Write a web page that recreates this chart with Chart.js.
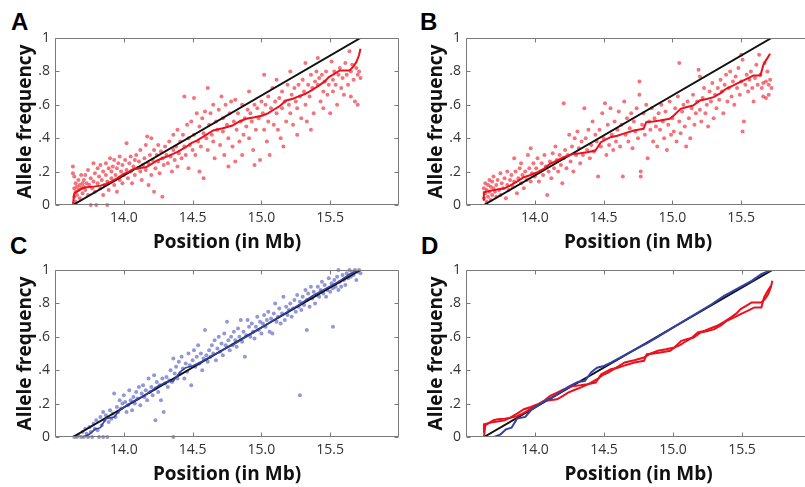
<!DOCTYPE html>
<html><head><meta charset="utf-8">
<script src="https://cdn.jsdelivr.net/npm/chart.js@4/dist/chart.umd.min.js"></script>
<style>
html,body{margin:0;padding:0;background:#fff;}
body{width:805px;height:487px;overflow:hidden;position:relative;}
canvas{position:absolute;}
.lbl{position:absolute;font:bold 24px "Liberation Sans",Arial,sans-serif;line-height:24px;color:#000;}
</style></head><body>
<div class="lbl" style="left:11px;top:10px">A</div>
<div class="lbl" style="left:420px;top:10px">B</div>
<div class="lbl" style="left:10px;top:234px">C</div>
<div class="lbl" style="left:421px;top:234px">D</div>
<canvas id="cA" width="403" height="254" style="left:0;top:0"></canvas>
<canvas id="cB" width="403" height="254" style="left:411px;top:0"></canvas>
<canvas id="cC" width="403" height="254" style="left:0;top:232px"></canvas>
<canvas id="cD" width="403" height="254" style="left:411px;top:232px"></canvas>
<script>
const xTitle = 'Position (in Mb)';
const yTitle = 'Allele frequency';
const xTickValues = [14.0, 14.5, 15.0, 15.5];
const xTickLabels = ['14.0', '14.5', '15.0', '15.5'];
const yTickValues = [0, 0.2, 0.4, 0.6, 0.8, 1];
const yTickLabels = ['0', '.2', '.4', '.6', '.8', '1'];

const diagonal = [[13.63,0],[15.72,1]];

const scatterA = [
[13.63,.19],[13.63,.23],[13.64,.05],[13.64,.10],[13.64,.17],[13.65,.08],[13.65,.13],[13.65,.02],[13.66,.11],[13.66,.06],[13.67,.15],[13.67,.09],[13.68,.12],[13.68,.04],[13.69,.18],[13.69,.10],[13.70,.13],[13.70,.07],
[13.71,.11],[13.71,.15],[13.72,.09],[13.72,.18],[13.73,.13],[13.74,.06],[13.74,.21],[13.75,.12],[13.76,0],[13.76,.16],[13.77,.10],[13.78,.14],[13.78,.25],[13.79,.08],[13.79,.19],
[13.80,0],[13.81,.13],[13.81,.22],[13.82,.17],[13.83,.10],[13.83,.24],[13.84,.15],[13.85,.20],[13.85,.06],[13.86,.12],[13.87,.25],[13.87,.18],[13.88,0],[13.88,.14],[13.89,.22],[13.89,.09],
[13.90,.28],[13.91,.20],[13.91,.16],[13.92,.23],[13.93,.12],[13.93,.27],[13.94,.18],[13.95,.22],[13.95,.08],[13.96,.25],[13.97,.15],[13.97,.29],[13.98,.20],[13.99,.24],[13.99,.13],
[14.00,.18],[14.01,.27],[14.02,.37],[14.02,.21],[14.03,.16],[14.04,.25],[14.05,.20],[14.05,.29],[14.06,.13],[14.07,.23],[14.08,.27],[14.08,.18],[14.09,.30],[14.10,.22],
[14.11,.26],[14.12,.20],[14.12,.33],[14.13,.15],[14.14,.24],[14.15,.28],[14.16,.36],[14.16,.21],[14.17,.41],[14.18,.25],[14.18,.12],[14.19,.30],[14.20,.40],[14.20,.18],
[14.21,.27],[14.22,.33],[14.22,.08],[14.23,.22],[14.24,.30],[14.25,.26],[14.25,.36],[14.26,.19],[14.27,.32],[14.28,.05],[14.28,.28],[14.29,.24],[14.30,.35],
[14.31,.30],[14.32,.25],[14.33,.38],[14.34,.29],[14.35,.20],[14.36,.33],[14.36,.42],[14.37,.27],[14.38,.35],[14.39,.45],[14.39,.23],[14.40,.31],
[14.41,.38],[14.42,.28],[14.43,.42],[14.44,.65],[14.44,.35],[14.45,.30],[14.46,.48],[14.47,.40],[14.47,.22],[14.48,.36],[14.49,.50],[14.50,.33],
[14.51,.64],[14.51,.42],[14.52,.30],[14.53,.55],[14.54,.38],[14.55,.47],[14.55,.20],[14.56,.35],[14.57,.52],[14.58,.16],[14.58,.43],[14.59,.56],[14.60,.40],
[14.61,.70],[14.61,.33],[14.62,.48],[14.63,.55],[14.64,.42],[14.65,.38],[14.65,.60],[14.66,.28],[14.67,.50],[14.68,.45],[14.69,.57],[14.70,.36],
[14.71,.65],[14.72,.44],[14.72,.52],[14.73,.30],[14.74,.60],[14.75,.48],[14.76,.23],[14.76,.40],[14.77,.55],[14.78,.62],[14.79,.35],[14.80,.50],
[14.81,.63],[14.81,.26],[14.82,.45],[14.83,.55],[14.84,.38],[14.85,.50],[14.86,.60],[14.86,.30],[14.87,.42],[14.88,.52],[14.89,.47],[14.90,.57],
[14.91,.68],[14.91,.40],[14.92,.55],[14.93,.50],[14.94,.33],[14.95,.60],[14.95,.24],[14.96,.45],[14.97,.58],[14.98,.52],[14.99,.27],[15.00,.62],
[15.01,.55],[15.02,.78],[15.02,.45],[15.03,.60],[15.04,.38],[15.05,.65],[15.05,.50],[15.06,.30],[15.07,.58],[15.08,.70],[15.09,.48],[15.10,.62],
[15.11,.75],[15.11,.55],[15.12,.45],[15.13,.64],[15.14,.40],[15.15,.68],[15.15,.58],[15.16,.35],[15.17,.62],[15.18,.50],[15.19,.72],[15.20,.60],
[15.21,.80],[15.21,.55],[15.22,.66],[15.23,.48],[15.24,.70],[15.25,.62],[15.26,.42],[15.26,.58],[15.27,.72],[15.28,.65],[15.29,.52],[15.30,.75],
[15.31,.68],[15.32,.85],[15.32,.60],[15.33,.50],[15.34,.72],[15.35,.65],[15.36,.45],[15.36,.78],[15.37,.70],[15.38,.55],[15.39,.74],[15.40,.80],
[15.41,.88],[15.41,.72],[15.42,.76],[15.43,.62],[15.44,.78],[15.45,.68],[15.45,.58],[15.46,.74],[15.47,.80],[15.48,.66],[15.49,.72],[15.50,.55],
[15.51,.86],[15.52,.75],[15.52,.68],[15.53,.80],[15.54,.72],[15.55,.60],[15.56,.78],[15.57,.82],[15.58,.70],[15.59,.76],[15.60,.66],
[15.61,.85],[15.62,.78],[15.63,.72],[15.64,.92],[15.65,.80],[15.65,.65],[15.66,.84],[15.67,.75],[15.68,.62],[15.69,.82],[15.70,.78],[15.70,.60],[15.71,.80],[15.72,.76]
];

const scatterB = [
[13.63,.04],[13.63,.10],[13.64,.07],[13.64,.13],[13.65,.02],[13.65,.09],[13.66,.12],[13.66,.05],[13.67,.15],[13.67,.08],[13.68,.11],[13.68,.03],[13.69,.06],[13.69,.14],[13.70,.10],[13.70,.17],[13.71,.08],[13.72,.12],[13.72,.05],
[13.73,.15],[13.74,.09],[13.75,.19],[13.75,.06],[13.76,.13],[13.77,.10],[13.78,.16],[13.79,.04],[13.80,.12],[13.80,.20],[13.81,.09],[13.82,.15],[13.83,.18],[13.84,.11],[13.85,.28],[13.85,.14],
[13.86,.20],[13.87,.07],[13.88,.16],[13.89,.22],[13.90,.13],[13.90,.25],[13.91,.18],[13.92,.10],[13.93,.20],[13.94,.15],[13.95,.30],[13.96,.22],[13.97,.34],[13.97,.14],[13.98,.19],[13.99,.25],
[14.00,.17],[14.01,.22],[14.02,.28],[14.03,.14],[14.04,.20],[14.05,.25],[14.06,.18],[14.07,.30],[14.08,.23],[14.09,.06],[14.10,.20],[14.11,.26],[14.12,.16],[14.13,.31],[14.14,.22],[14.15,.35],
[14.16,.27],[14.17,.20],[14.18,.30],[14.19,.24],[14.20,.13],[14.21,.61],[14.21,.28],[14.22,.33],[14.23,.22],[14.24,.30],[14.25,.42],[14.26,.26],[14.27,.35],[14.28,.20],[14.29,.40],[14.30,.30],
[14.31,.44],[14.32,.34],[14.33,.25],[14.34,.38],[14.35,.30],[14.36,.58],[14.37,.40],[14.38,.33],[14.39,.45],[14.40,.28],[14.41,.36],[14.42,.50],[14.43,.32],[14.44,.42],[14.45,.38],
[14.46,.17],[14.47,.45],[14.48,.35],[14.49,.55],[14.50,.40],[14.51,.61],[14.52,.30],[14.53,.48],[14.54,.36],[14.55,.58],[14.56,.42],[14.57,.33],[14.58,.50],[14.59,.38],[14.60,.45],
[14.61,.56],[14.62,.35],[14.63,.48],[14.64,.17],[14.65,.62],[14.66,.42],[14.67,.52],[14.68,.38],[14.69,.46],[14.70,.55],[14.71,.34],[14.72,.50],[14.73,.44],[14.74,.58],[14.75,.40],
[14.76,.74],[14.76,.66],[14.77,.20],[14.77,.17],[14.78,.48],[14.79,.55],[14.80,.42],[14.81,.60],[14.82,.28],[14.83,.50],[14.84,.45],[14.85,.58],[14.86,.38],[14.87,.52],[14.88,.47],[14.89,.35],[14.90,.55],
[14.91,.45],[14.92,.60],[14.93,.50],[14.94,.40],[14.95,.56],[14.96,.33],[14.97,.48],[14.98,.62],[14.99,.42],[15.00,.52],[15.01,.44],[15.02,.58],[15.03,.38],[15.04,.65],[15.05,.85],[15.05,.50],
[15.06,.43],[15.07,.56],[15.08,.60],[15.09,.47],[15.10,.35],[15.11,.62],[15.12,.52],[15.13,.40],[15.14,.58],[15.15,.66],[15.16,.48],[15.17,.55],[15.18,.62],[15.19,.81],[15.20,.77],[15.20,.57],
[15.21,.50],[15.22,.64],[15.23,.70],[15.24,.55],[15.25,.60],[15.26,.47],[15.27,.68],[15.28,.62],[15.29,.73],[15.30,.52],[15.31,.66],[15.32,.58],[15.33,.70],[15.34,.63],[15.35,.75],
[15.36,.68],[15.37,.55],[15.38,.72],[15.39,.78],[15.40,.62],[15.41,.70],[15.42,.80],[15.43,.65],[15.44,.74],[15.45,.60],[15.46,.77],[15.47,.70],[15.48,.82],[15.49,.66],[15.50,.90],[15.50,.74],
[15.51,.87],[15.51,.44],[15.52,.50],[15.53,.72],[15.54,.78],[15.55,.68],[15.56,.75],[15.57,.80],[15.58,.70],[15.59,.62],[15.60,.76],[15.61,.84],[15.62,.72],
[15.63,.90],[15.64,.78],[15.65,.70],[15.66,.73],[15.66,.65],[15.67,.85],[15.68,.74],[15.68,.64],[15.69,.80],[15.70,.72],[15.70,.66],[15.71,.75],[15.72,.70]
];

const scatterC = [
[13.64,0],[13.66,0],[13.67,.01],[13.69,0],[13.70,.03],[13.71,0],[13.72,.05],[13.73,.02],[13.74,0],[13.75,.06],[13.76,.03],[13.77,0],[13.78,.08],[13.79,.05],[13.80,.10],
[13.81,.04],[13.82,0],[13.83,.12],[13.84,.07],[13.85,.15],[13.85,0],[13.86,.10],[13.87,.13],[13.88,0],[13.89,.09],[13.90,.16],[13.91,.11],[13.92,.14],[13.93,.26],[13.94,.12],[13.95,.18],[13.96,.15],[13.97,.22],[13.98,.17],[13.99,.20],
[14.00,.25],[14.01,.21],[14.02,.15],[14.03,.19],[14.04,.28],[14.05,.22],[14.06,.16],[14.07,.24],[14.08,.20],[14.09,.27],[14.10,.23],[14.11,.30],[14.12,.19],[14.13,.26],[14.14,.31],[14.15,.24],[14.16,.28],[14.17,.22],[14.18,.35],[14.19,.27],[14.20,.30],
[14.21,.25],[14.22,.37],[14.23,.10],[14.23,.29],[14.24,.33],[14.25,.27],[14.26,.31],[14.27,.22],[14.28,.35],[14.29,.15],[14.30,.32],[14.31,.36],[14.32,.30],[14.33,.34],[14.34,.40],[14.35,.33],[14.36,0],[14.36,.47],[14.37,.38],[14.38,.42],[14.39,.35],[14.40,.45],
[14.41,.38],[14.42,.48],[14.43,.41],[14.44,.35],[14.45,.44],[14.46,.39],[14.47,.50],[14.48,.43],[14.49,.31],[14.50,.46],[14.51,.52],[14.52,.42],[14.53,.48],[14.54,.55],[14.55,.44],[14.56,.50],[14.57,.40],[14.58,.47],[14.59,.64],[14.60,.49],
[14.61,.45],[14.62,.52],[14.63,.48],[14.64,.55],[14.65,.50],[14.66,.58],[14.67,.46],[14.68,.53],[14.69,.60],[14.70,.51],[14.71,.56],[14.72,.49],[14.73,.62],[14.74,.55],[14.75,.69],[14.76,.58],[14.77,.52],[14.78,.60],[14.79,.55],[14.80,.63],
[14.81,.58],[14.82,.54],[14.83,.65],[14.84,.60],[14.85,.70],[14.86,.57],[14.87,.63],[14.88,.48],[14.89,.61],[14.90,.70],[14.91,.66],[14.92,.60],[14.93,.68],[14.94,.63],[14.95,.59],[14.96,.66],[14.97,.72],[14.98,.64],[14.99,.69],[15.00,.62],
[15.01,.68],[15.02,.73],[15.03,.66],[15.04,.70],[15.05,.75],[15.06,.63],[15.07,.71],[15.08,.62],[15.09,.74],[15.10,.80],[15.11,.69],[15.12,.72],[15.13,.77],[15.14,.68],[15.15,.74],[15.16,.84],[15.17,.70],[15.18,.78],[15.19,.73],[15.20,.76],
[15.21,.80],[15.22,.72],[15.23,.77],[15.24,.82],[15.25,.75],[15.26,.85],[15.27,.78],[15.28,.25],[15.28,.81],[15.29,.76],[15.30,.84],[15.31,.79],[15.32,.88],[15.33,.64],[15.33,.82],[15.34,.86],[15.35,.78],[15.36,.90],[15.37,.83],[15.38,.87],[15.39,.80],[15.40,.85],
[15.41,.90],[15.42,.84],[15.43,.88],[15.44,.93],[15.45,.86],[15.46,.91],[15.47,.84],[15.48,.88],[15.49,.95],[15.50,.87],[15.51,.92],[15.52,.66],[15.52,.89],[15.53,.94],[15.54,.90],[15.55,.96],[15.56,1],[15.56,.88],[15.57,.93],[15.58,.90],[15.59,.97],[15.60,.94],
[15.61,.91],[15.62,.98],[15.63,.95],[15.64,1],[15.65,.96],[15.66,.99],[15.67,.97],[15.68,1],[15.69,.94],[15.70,.99],[15.71,1],[15.72,.98]
];

const trendA = [[13.63,0],[13.64,.07],[13.67,.086],[13.70,.10],[13.73,.106],[13.78,.11],[13.83,.116],[13.87,.125],[13.90,.136],[13.95,.16],[14.0,.186],[14.04,.20],[14.07,.216],[14.12,.222],[14.16,.226],[14.20,.245],[14.24,.266],[14.28,.28],[14.33,.296],[14.39,.318],[14.45,.346],[14.49,.37],[14.53,.386],[14.59,.415],[14.65,.446],[14.72,.46],[14.79,.476],[14.84,.50],[14.89,.516],[14.95,.525],[15.01,.536],[15.05,.55],[15.08,.566],[15.13,.59],[15.18,.626],[15.23,.636],[15.27,.65],[15.32,.666],[15.37,.69],[15.42,.716],[15.46,.74],[15.49,.766],[15.53,.785],[15.57,.806],[15.64,.806],[15.67,.83],[15.69,.856],[15.70,.876],[15.71,.90],[15.72,.936]];
const trendB = [[13.63,.026],[13.63,.076],[13.68,.086],[13.75,.096],[13.78,.10],[13.82,.116],[13.87,.14],[13.92,.166],[13.97,.18],[14.02,.196],[14.07,.22],[14.11,.246],[14.16,.265],[14.21,.286],[14.28,.306],[14.33,.31],[14.38,.316],[14.44,.326],[14.46,.35],[14.48,.376],[14.55,.406],[14.60,.415],[14.64,.426],[14.72,.446],[14.79,.456],[14.81,.496],[14.86,.50],[14.91,.506],[14.98,.516],[15.01,.536],[15.06,.576],[15.10,.585],[15.15,.596],[15.20,.626],[15.25,.635],[15.30,.646],[15.35,.67],[15.39,.696],[15.44,.715],[15.49,.736],[15.54,.755],[15.59,.776],[15.64,.776],[15.66,.836],[15.68,.866],[15.71,.906]];
const trendC = [[13.63,0],[13.705,0],[13.75,.016],[13.79,.046],[13.83,.056],[13.87,.11],[13.93,.12],[13.97,.16],[14.0,.177],[14.06,.21],[14.12,.235],[14.19,.27],[14.24,.30],[14.31,.33],[14.36,.335],[14.41,.39],[14.45,.415],[14.50,.425],[14.55,.445],[14.65,.49],[14.74,.53],[14.81,.56],[14.89,.60],[14.99,.65],[15.08,.695],[15.18,.745],[15.28,.795],[15.37,.845],[15.47,.89],[15.57,.935],[15.64,.975],[15.71,1]];

const RED_PT = 'rgba(240,60,70,0.72)';
const BLUE_PT = 'rgba(110,118,200,0.75)';
const RED = '#e8121c';
const BLUE = '#3442a6';
const BLACK = '#111111';

const toXY = a => a.map(p => ({x: p[0], y: p[1]}));
const pts = (arr, color) => ({data: toXY(arr), showLine: false, pointRadius: 2, pointBorderWidth: 0, backgroundColor: color, borderColor: color, clip: false});
const line = (arr, color, w) => ({data: toXY(arr), showLine: true, pointRadius: 0, borderWidth: w, borderColor: color, backgroundColor: color, tension: 0, fill: false});

const boxPlugin = {
  id: 'box',
  afterDraw(chart) {
    const {ctx, chartArea: a, scales: {x, y}} = chart;
    const L = Math.round(a.left) + 0.5, R = Math.round(a.right) - 0.5;
    const T = Math.round(a.top) + 0.5, B = Math.round(a.bottom) - 0.5;
    ctx.save();
    ctx.strokeStyle = '#7a7a7a';
    ctx.lineWidth = 1;
    ctx.beginPath();
    ctx.rect(L, T, R - L, B - T);
    x.ticks.forEach(t => {
      const px = Math.round(x.getPixelForValue(t.value)) + 0.5;
      ctx.moveTo(px, B); ctx.lineTo(px, B - 4);
      ctx.moveTo(px, T); ctx.lineTo(px, T + 4);
    });
    y.ticks.forEach(t => {
      const py = Math.round(y.getPixelForValue(t.value)) + 0.5;
      ctx.moveTo(L, py); ctx.lineTo(L + 4, py);
      ctx.moveTo(R, py); ctx.lineTo(R - 4, py);
    });
    ctx.stroke();
    ctx.restore();
  }
};

const tickFont = {family: '"Open Sans"', size: 14};
const titleFont = {family: '"Open Sans"', size: 19, weight: 'bold'};

function makeChart(id, datasets) {
  return new Chart(document.getElementById(id), {
    type: 'scatter',
    data: {datasets},
    options: {
      responsive: false,
      animation: false,
      events: [],
      layout: {padding: {top: 38, right: 3, left: 0, bottom: 0}},
      plugins: {legend: {display: false}, tooltip: {enabled: false}},
      scales: {
        x: {
          type: 'linear', min: 13.5, max: 16,
          afterBuildTicks: s => { s.ticks = xTickValues.map(v => ({value: v})); },
          afterFit: s => { s.height = 49; },
          grid: {display: false, drawTicks: false},
          border: {display: false},
          ticks: {autoSkip: false, maxRotation: 0, padding: 5, color: '#333', font: tickFont,
                  callback: v => xTickLabels[xTickValues.indexOf(v)]},
          title: {display: true, text: xTitle, color: '#111', font: titleFont, padding: {top: 0, bottom: 0}}
        },
        y: {
          type: 'linear', min: 0, max: 1,
          afterBuildTicks: s => { s.ticks = yTickValues.map(v => ({value: v})); },
          afterFit: s => { s.width = 55; },
          grid: {display: false, drawTicks: false},
          border: {display: false},
          ticks: {padding: 5, color: '#333', font: tickFont,
                  callback: v => yTickLabels[yTickValues.indexOf(v)]},
          title: {display: true, text: yTitle, color: '#111', font: titleFont, padding: {top: 14, bottom: 0}}
        }
      }
    },
    plugins: [boxPlugin]
  });
}

makeChart('cA', [line(trendA, RED, 2), line(diagonal, BLACK, 2), pts(scatterA, RED_PT)]);
makeChart('cB', [line(trendB, RED, 2), line(diagonal, BLACK, 2), pts(scatterB, RED_PT)]);
makeChart('cC', [line(trendC, BLUE, 1.6), line(diagonal, BLACK, 2), pts(scatterC, BLUE_PT)]);
makeChart('cD', [line(trendC, BLUE, 2), line(trendA, RED, 2), line(trendB, RED, 2), line(diagonal, BLACK, 2)]);
</script>
</body></html>
